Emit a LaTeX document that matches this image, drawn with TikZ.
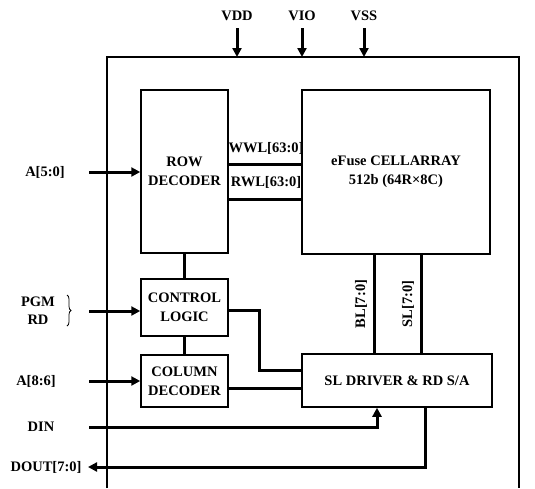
\documentclass[tikz,border=0pt]{standalone}
\usepackage{fontspec}
\setmainfont{Liberation Serif}
\usetikzlibrary{arrows.meta,decorations.pathreplacing}
\begin{document}
\begin{tikzpicture}[x=1pt,y=-1pt,
  every node/.style={font=\fontsize{14.5}{19}\selectfont\bfseries, inner sep=0pt},
  blk/.style={draw, line width=1.5pt, align=center},
  bus/.style={line width=3pt},
  arr/.style={line width=3pt, -{Triangle[length=9pt,width=9pt]}},
  frame/.style={line width=1.2pt}]
\useasboundingbox (0,0) rectangle (535,488);
% outer frame
\draw[frame] (107,488) -- (107,57) -- (519,57) -- (519,488);
% blocks
\node[blk, minimum width=87pt, minimum height=163pt] (row) at (184.5,171.5) {ROW\\DECODER};
\node[blk, minimum width=188pt, minimum height=164pt] (arr) at (396,172) {eFuse CELLARRAY\\512b (64R\texttimes8C)};
\node[blk, minimum width=87pt, minimum height=57pt] (ctl) at (184.5,307.5) {CONTROL\\LOGIC};
\node[blk, minimum width=87pt, minimum height=52pt] (col) at (184.5,381) {COLUMN\\DECODER};
\node[blk, minimum width=190pt, minimum height=53pt] (sld) at (397,380.5) {SL DRIVER \& RD S/A};
% supply pins
\node (vdd) at (237,16) {VDD};
\node (vio) at (302,16) {VIO};
\node (vss) at (364,16) {VSS};
\coordinate (vddt) at (237,28); \coordinate (vddb) at (237,57);
\coordinate (viot) at (302,28); \coordinate (viob) at (302,57);
\coordinate (vsst) at (364,28); \coordinate (vssb) at (364,57);
\draw[arr] (vddt) -- (vddb);
\draw[arr] (viot) -- (viob);
\draw[arr] (vsst) -- (vssb);
% word lines
\coordinate (wwl) at (0,164);
\coordinate (rwl) at (0,199);
\draw[bus] (row.east |- wwl) -- (arr.west |- wwl);
\draw[bus] (row.east |- rwl) -- (arr.west |- rwl);
\node (wwll) at (266,148) {WWL[63:0]};
\node (rwll) at (266,182) {RWL[63:0]};
% vertical links
\draw[bus] (row.south) -- (ctl.north);
\draw[bus] (ctl.south) -- (col.north);
% bit lines
\coordinate (blx) at (374,0);
\coordinate (slx) at (421,0);
\draw[bus] (arr.south -| blx) -- (sld.north -| blx);
\draw[bus] (arr.south -| slx) -- (sld.north -| slx);
\node[rotate=90] (bll) at (361,304) {BL[7:0]};
\node[rotate=90] (sll) at (408,304) {SL[7:0]};
% control to driver
\coordinate (c1) at (259,310);
\coordinate (c2) at (259,370);
\draw[bus] (ctl.east |- c1) -- (c1) -- (c2) -- (sld.west |- c2);
\coordinate (cd) at (0,388);
\draw[bus] (col.east |- cd) -- (sld.west |- cd);
% inputs
\node (a50) at (45,172) {A[5:0]};
\coordinate (a50s) at (89,172);
\draw[arr] (a50s) -- (row.west |- a50s);
\node (pgm) at (38,302) {PGM};
\node (rd) at (38,320) {RD};
\coordinate (bt) at (67,295); \coordinate (bb) at (67,326);
\draw[line width=0.8pt, decorate, decoration={brace, amplitude=4pt}] (bt) -- (bb);
\coordinate (pgms) at (89,311);
\draw[arr] (pgms) -- (ctl.west |- pgms);
\node (a86) at (36,381) {A[8:6]};
\coordinate (a86s) at (89,381);
\draw[arr] (a86s) -- (col.west |- a86s);
\node (din) at (41,427) {DIN};
\coordinate (dins) at (89,427);
\coordinate (dinc) at (377,427);
\draw[arr] (dins) -- (dinc) -- (sld.south -| dinc);
\node (dout) at (46,467) {DOUT[7:0]};
\coordinate (doutx) at (425,0);
\coordinate (doutc) at (425,467);
\coordinate (doute) at (88,467);
\draw[arr] (sld.south -| doutx) -- (doutc) -- (doute);
\end{tikzpicture}
\end{document}
